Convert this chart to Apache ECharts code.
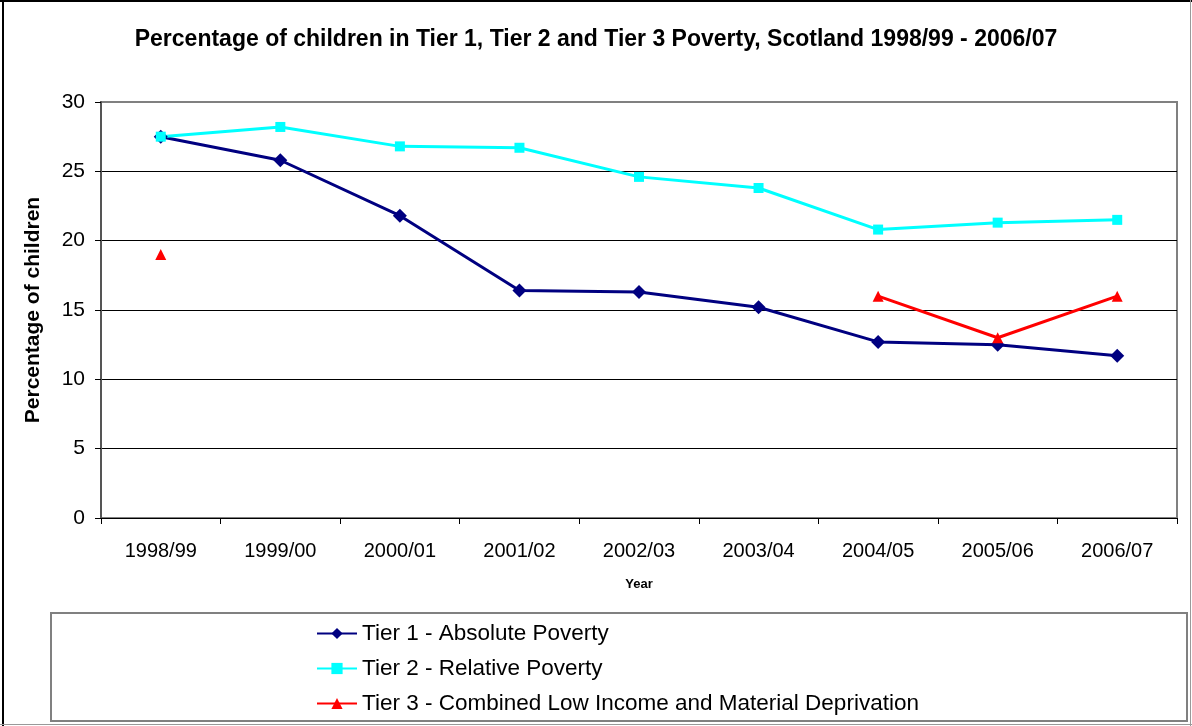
<!DOCTYPE html>
<html>
<head>
<meta charset="utf-8">
<script src="https://cdn.jsdelivr.net/npm/echarts@6/dist/echarts.min.js"></script>
<style>html,body{margin:0;padding:0;background:#fff}#c{width:1192px;height:726px}</style>
</head>
<body>
<div id="c"></div>
<script>
var categories = ['1998/99','1999/00','2000/01','2001/02','2002/03','2003/04','2004/05','2005/06','2006/07'];
var tier1 = [27.5, 25.8, 21.8, 16.4, 16.3, 15.2, 12.7, 12.5, 11.7];
var tier2 = [27.5, 28.2, 26.8, 26.7, 24.6, 23.8, 20.8, 21.3, 21.5];
var tier3 = [19.0, null, null, null, null, null, 16.0, 13.0, 16.0];
var seriesNames = ['Tier 1 - Absolute Poverty','Tier 2 - Relative Poverty','Tier 3 - Combined Low Income and Material Deprivation'];

var FONT = '"Liberation Sans", Arial, sans-serif';
var chart = echarts.init(document.getElementById('c'), null, {renderer:'canvas'});
chart.setOption({
  backgroundColor: '#fff',
  animation: false,
  title: {
    text: 'Percentage of children in Tier 1, Tier 2 and Tier 3 Poverty, Scotland 1998/99 - 2006/07',
    left: 'center', top: 23,
    textStyle: {fontFamily: FONT, fontSize: 23, fontWeight: 'bold', color: '#000'}
  },
  grid: {left: 101, right: 15, top: 102, bottom: 208, show: true, borderColor: '#808080', borderWidth: 2, backgroundColor: '#fff'},
  legend: {
    orient: 'vertical', left: 311, top: 617, itemGap: 12, itemWidth: 40, itemHeight: 14,
    textStyle: {fontFamily: FONT, fontSize: 22.5, color: '#000'},
    data: seriesNames
  },
  xAxis: {
    type: 'category', data: categories, boundaryGap: true,
    name: 'Year', nameLocation: 'middle', nameGap: 60,
    nameTextStyle: {fontFamily: FONT, fontSize: 13, fontWeight: 'bold', color: '#000'},
    axisLine: {lineStyle: {color: '#000', width: 1}},
    axisTick: {show: true, length: 6, lineStyle: {color: '#000'}},
    axisLabel: {fontFamily: FONT, fontSize: 20, color: '#000', margin: 23}
  },
  yAxis: {
    type: 'value', min: 0, max: 30, interval: 5,
    name: 'Percentage of children', nameLocation: 'middle', nameGap: 57,
    nameTextStyle: {fontFamily: FONT, fontSize: 21, fontWeight: 'bold', color: '#000'},
    axisLine: {show: true, lineStyle: {color: '#555', width: 2}},
    axisTick: {show: true, length: 6, lineStyle: {color: '#000'}},
    axisLabel: {fontFamily: FONT, fontSize: 21, color: '#000', margin: 16},
    splitLine: {show: true, lineStyle: {color: ['#000','#000','#000','#000','#000','#000','#808080'], width: 1}}
  },
  series: [
    {name: seriesNames[0], type: 'line', data: tier1, symbol: 'diamond', symbolSize: 14,
     itemStyle: {color: '#000080'}, lineStyle: {color: '#000080', width: 3}},
    {name: seriesNames[1], type: 'line', data: tier2, symbol: 'rect', symbolSize: 10,
     itemStyle: {color: '#00FFFF'}, lineStyle: {color: '#00FFFF', width: 3}},
    {name: seriesNames[2], type: 'line', data: tier3, symbol: 'triangle', symbolSize: 11,
     connectNulls: false, showAllSymbol: true,
     itemStyle: {color: '#FF0000'}, lineStyle: {color: '#FF0000', width: 3}}
  ],
  graphic: [
    {type: 'rect', shape: {x: 51, y: 613, width: 1136, height: 108}, style: {fill: 'none', stroke: '#808080', lineWidth: 2}, z: -1},
    {type: 'line', shape: {x1: 0, y1: 1, x2: 1192, y2: 1}, style: {stroke: '#000', lineWidth: 2}},
    {type: 'line', shape: {x1: 3, y1: 0, x2: 3, y2: 726}, style: {stroke: '#000', lineWidth: 2}},
    {type: 'line', shape: {x1: 1190.5, y1: 0, x2: 1190.5, y2: 726}, style: {stroke: '#999', lineWidth: 1}},
    {type: 'line', shape: {x1: 0, y1: 724.5, x2: 1192, y2: 724.5}, style: {stroke: '#999', lineWidth: 1}}
  ]
});
</script>
</body>
</html>
